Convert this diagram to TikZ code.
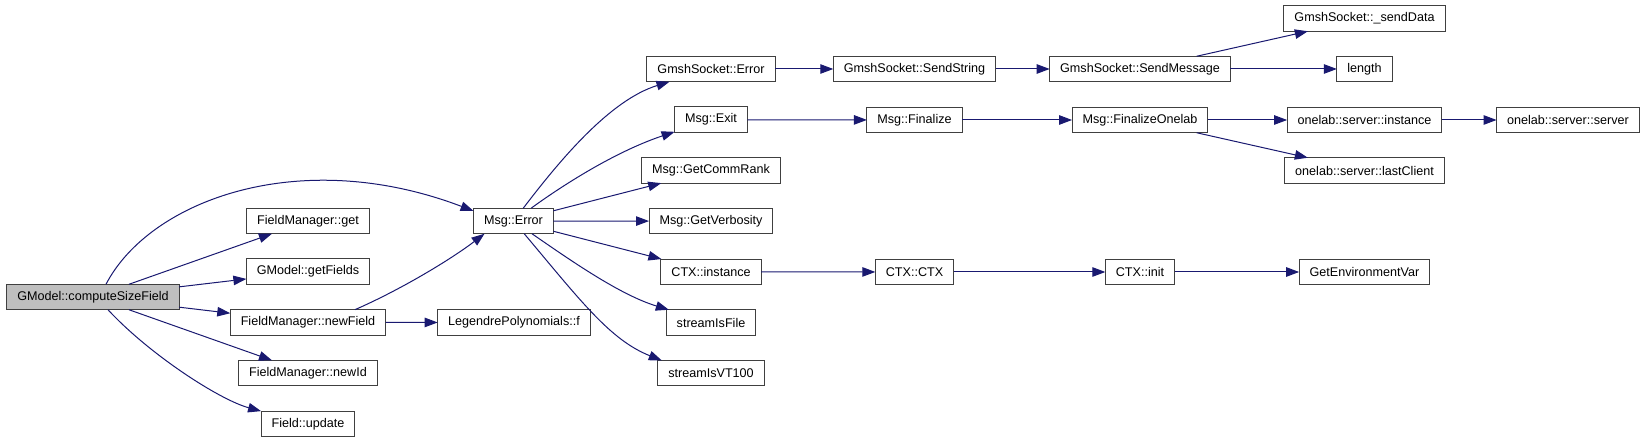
\documentclass[tikz,border=0pt]{standalone}
\usepackage{fontspec}
\setsansfont{Liberation Sans}
\usepackage{xcolor}
\usetikzlibrary{positioning,arrows.meta}
\definecolor{edgeblue}{RGB}{25,25,112}
\definecolor{boxgray}{RGB}{64,64,64}
\definecolor{rootfill}{RGB}{191,191,191}

\begin{document}
\begin{tikzpicture}[
    x=1pt, y=-1pt,
    node distance=25.2pt,
    every node/.style={font=\sffamily\fontsize{12.6}{15}\selectfont},
    fn/.style={draw=boxgray, line width=1pt, fill=white, minimum height=25.5pt, inner xsep=10.5pt, inner ysep=2pt, outer sep=0pt},
    cur/.style={fn, fill=rootfill},
    arr/.style={-{Triangle[length=13pt,width=9.5pt]}, edgeblue, line width=1pt}
]
\useasboundingbox (0,0) rectangle (1645,443);

% caller and its direct callees
\node[cur] (sizeFld) at (93,297) {GModel::computeSizeField};
\node[fn] (fmGet) at (308,221) {FieldManager::get};
\node[fn, below=of fmGet] (getFlds) {GModel::getFields};
\node[fn, below=of getFlds] (fmNewFld) {FieldManager::newField};
\node[fn, below=of fmNewFld] (fmNewId) {FieldManager::newId};
\node[fn, below=of fmNewId] (fldUpd) {Field::update};
\node[fn] (msgErr) at (513.5,221) {Msg::Error};
\node[fn] (legF) at (514,322.5) {LegendrePolynomials::f};

% callees of Msg::Error
\node[fn] (gsErr) at (711,69) {GmshSocket::Error};
\node[fn, below=of gsErr] (msgExit) {Msg::Exit};
\node[fn, below=of msgExit] (commRank) {Msg::GetCommRank};
\node[fn, below=of commRank] (verb) {Msg::GetVerbosity};
\node[fn, below=of verb] (ctxInst) {CTX::instance};
\node[fn, below=of ctxInst] (strFile) {streamIsFile};
\node[fn, below=of strFile] (strVT) {streamIsVT100};

% deeper levels
\node[fn] (gsSendStr) at (914.5,69) {GmshSocket::SendString};
\node[fn] (msgFin) at (914.5,120) {Msg::Finalize};
\node[fn] (ctxCtx) at (914.5,272) {CTX::CTX};
\node[fn] (gsSendMsg) at (1140,69) {GmshSocket::SendMessage};
\node[fn] (msgFinOl) at (1140,120) {Msg::FinalizeOnelab};
\node[fn] (ctxInit) at (1140,272) {CTX::init};
\node[fn] (gsSendData) at (1364.5,18.5) {GmshSocket::\_sendData};
\node[fn] (len) at (1364.5,69) {length};
\node[fn] (olInst) at (1364.5,120) {onelab::server::instance};
\node[fn] (olLast) at (1364.5,170.5) {onelab::server::lastClient};
\node[fn] (getEnv) at (1364.5,272) {GetEnvironmentVar};
\node[fn] (olServer) at (1568,120) {onelab::server::server};

\draw[arr] ([xshift=13pt]sizeFld.north) .. controls (150,200) and (300,145) .. ([yshift=10pt]msgErr.west);
\draw[arr] (sizeFld) -- (fmGet);
\draw[arr] (sizeFld) -- (getFlds);
\draw[arr] (sizeFld) -- (fmNewFld);
\draw[arr] (sizeFld) -- (fmNewId);
\draw[arr] ([xshift=15pt]sizeFld.south) .. controls (150,355) and (220,400) .. (fldUpd);
\draw[arr] ([xshift=47pt]fmNewFld.north) .. controls (400,290) and (450,260) .. ([xshift=-29pt]msgErr.south);
\draw[arr] (fmNewFld) -- (legF);

\draw[arr] (msgErr) .. controls (560,160) and (610,100) .. (gsErr);
\draw[arr] (msgErr) .. controls (570,180) and (620,150) .. (msgExit);
\draw[arr] (msgErr) -- (commRank);
\draw[arr] (msgErr) -- (verb);
\draw[arr] (msgErr) -- (ctxInst);
\draw[arr] (msgErr) .. controls (570,260) and (620,295) .. (strFile);
\draw[arr] (msgErr) .. controls (580,300) and (610,340) .. ([xshift=4pt]strVT.north west);

\draw[arr] (gsErr) -- (gsSendStr);
\draw[arr] (gsSendStr) -- (gsSendMsg);
\draw[arr] (gsSendMsg) -- (gsSendData);
\draw[arr] (gsSendMsg) -- (len);
\draw[arr] (msgExit) -- (msgFin);
\draw[arr] (msgFin) -- (msgFinOl);
\draw[arr] (msgFinOl) -- (olInst);
\draw[arr] (msgFinOl) -- (olLast);
\draw[arr] (olInst) -- (olServer);
\draw[arr] (ctxInst) -- (ctxCtx);
\draw[arr] (ctxCtx) -- (ctxInit);
\draw[arr] (ctxInit) -- (getEnv);
\end{tikzpicture}
\end{document}
